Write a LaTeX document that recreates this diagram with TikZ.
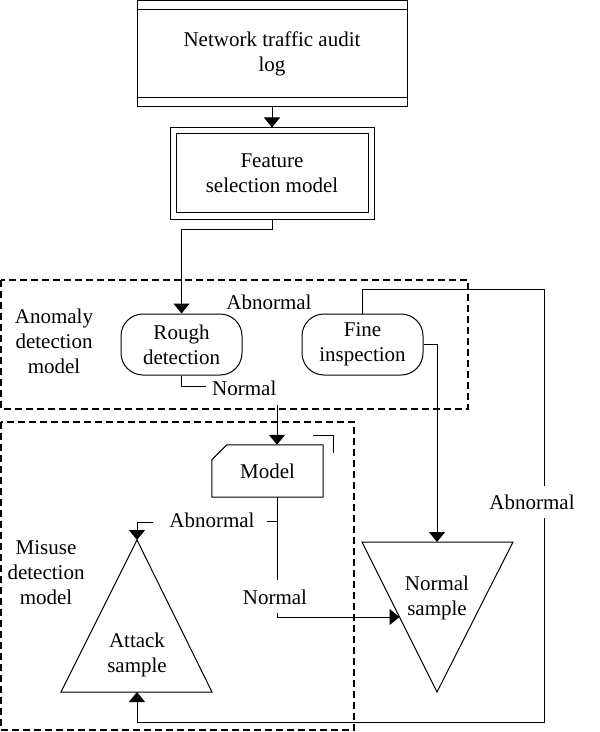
\documentclass[tikz,border=0pt]{standalone}
\usepackage{fontspec}
\setmainfont{Liberation Serif}
\usetikzlibrary{arrows.meta,calc}
\begin{document}
\begin{tikzpicture}[x=1bp,y=-1bp,
  every node/.style={font=\fontsize{21bp}{25bp}\selectfont, inner sep=0pt},
  ln/.style={line width=1bp},
  arr/.style={line width=1bp,-{Triangle[width=16bp,length=10bp]}},
  dashbox/.style={line width=1.1bp, dash pattern=on 7bp off 4bp},
  txt/.style={align=center},
  sqbox/.style={draw,line width=1bp,align=center},
  rbox/.style={draw,line width=1bp,rounded corners=22bp,minimum width=121bp,minimum height=61bp,align=center},
]
\useasboundingbox (0,0) rectangle (600,732);

% dashed groups
\draw[dashbox] (1,280) rectangle (468,409);
\draw[dashbox] (1,422) rectangle (354,730);

% top log box
\node[sqbox, minimum width=270bp, minimum height=105bp] (log) at (272,53.5) {Network traffic audit\\log};
\draw[ln] ($(log.north west)+(0,9)$) -- ($(log.north east)+(0,9)$);
\draw[ln] ($(log.south west)+(0,-9)$) -- ($(log.south east)+(0,-9)$);

% feature selection
\node[sqbox, minimum width=204bp, minimum height=91bp] (feat) at (272,173.5) {Feature\\selection model};
\draw[ln] ($(feat.north west)+(7,6)$) rectangle ($(feat.south east)+(-6,-7)$);

\draw[arr] (log.south) -- (feat.north);

% anomaly detection
\node[txt] (anomtxt) at (54,341) {Anomaly\\detection\\model};
\node[rbox] (rough) at (181.5,344.5) {Rough\\detection};
\node[rbox] (fine) at (362.5,344.5) {Fine\\inspection};
\node (abn1) at (269,302) {Abnormal};
\node[anchor=west] (nor1) at (212,388) {Normal};

\draw[arr] (feat.south) -- ++(0,10) -| (rough.north);
\draw[ln] (rough.south) |- ($(nor1.west)+(-6,-2)$);

% model
\node[minimum width=111bp, minimum height=52bp] (model) at (267.5,471) {Model};
\draw[ln] ($(model.north west)+(0,15)$) -- ($(model.north west)+(15,0)$) -- (model.north east) -- (model.south east) -- (model.south west) -- cycle;
\draw[ln] ($(model.north east)+(-10,-9)$) -- ($(model.north east)+(10,-9)$) -- ($(model.north east)+(10,8)$);

\coordinate (m1) at (277,405);
\coordinate (m2) at (277,580);
\draw[arr] (m1) -- (m1 |- model.north);
\draw[ln] (m1 |- model.south) -- (m2);

% misuse detection
\node[txt] (mistxt) at (46,573) {Misuse\\detection\\model};

% attack sample triangle
\coordinate (atkapex) at (137,540);
\coordinate (atkl) at (61,692);
\coordinate (atkr) at (212,692);
\coordinate (atkbase) at (137,692);
\draw[ln, line join=miter] (atkapex) -- (atkr) -- (atkl) -- cycle;
\node[txt] (atk) at (137,655) {Attack\\sample};

% normal sample triangle
\coordinate (nsl) at (362,542);
\coordinate (nsr) at (513,542);
\coordinate (nsapex) at (437,692);
\coordinate (nstop) at (437,542);
\coordinate (nsin) at (399.5,617);
\draw[ln, line join=miter] (nsl) -- (nsr) -- (nsapex) -- cycle;
\node[txt] (ns) at (437,598) {Normal\\sample};

% model branches
\node (abn2) at (212,520) {Abnormal};
\draw[ln] ($(abn2.east)+(12,1)$) -- (m1 |- {$(abn2.east)+(12,1)$});
\draw[arr] ($(abn2.west)+(-16,2)$) -| (atkapex);

\node (nor2) at (275,597) {Normal};
\draw[arr] ($(nor2.south)+(2,8)$) |- (nsin);

% fine inspection outputs
\draw[arr] (fine.east) -| (nstop);
\coordinate (rt) at (544,289);
\coordinate (rb) at (544,722);
\draw[arr] (fine.north) |- (rt) -- (rb) -| (atkbase);
\node[fill=white, inner xsep=1bp, inner ysep=9bp] (abn3) at (532,502) {Abnormal};

\end{tikzpicture}
\end{document}
